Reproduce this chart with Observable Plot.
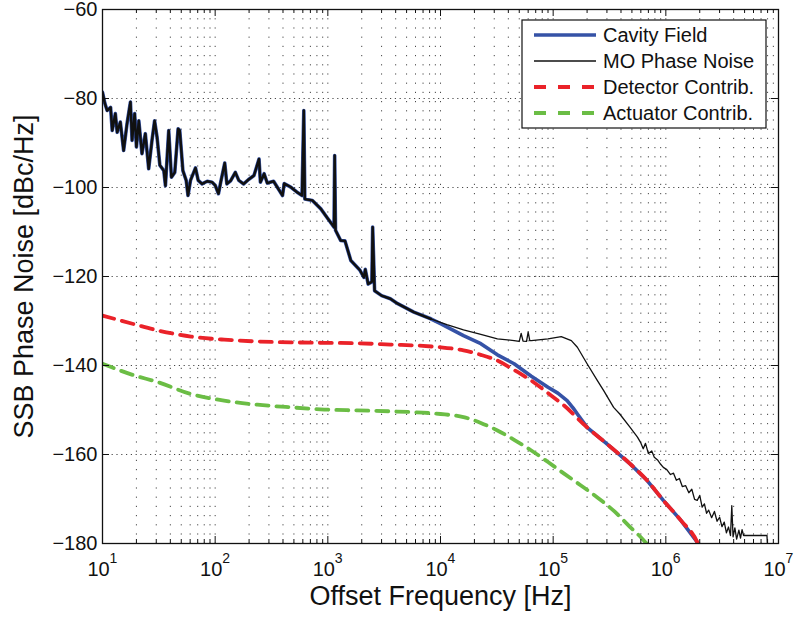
<!DOCTYPE html>
<html>
<head>
<meta charset="utf-8">
<script src="https://cdn.jsdelivr.net/npm/d3@7"></script>
<script src="https://cdn.jsdelivr.net/npm/@observablehq/plot@0.6"></script>
<style>
  html, body { margin: 0; padding: 0; background: #fff; }
  #chart { width: 795px; height: 617px; }
</style>
</head>
<body>
<div id="chart"></div>
<script>
// ---- Data ----
const moFreq = [10, 10.5, 11, 11.8, 12.2, 13.0, 13.5, 14.4, 15.4, 16.5, 17.7, 18.3, 19.3, 20, 21, 22.4, 24, 25.7, 27.5, 29, 30.5, 32.3, 35, 36.2, 38.7, 40.9, 43.8, 46.9, 48.5, 51.7, 55.3, 57.4, 60.4, 66.9, 70.7, 76.5, 85, 93.8, 100, 107, 112, 121.6, 127, 137, 151, 162, 179, 198, 221, 245, 252, 272, 290, 330, 396, 410, 468, 530, 590, 612, 625, 729, 867, 980, 1135, 1150, 1170, 1300, 1420, 1600, 1930, 2090, 2150, 2280, 2460, 2500, 2600, 3000, 3590, 4170, 5800, 8200,
  10000, 11400, 16000, 22800, 32000, 45000, 50000, 52000, 54000, 58000, 60000, 62000, 64000, 90000, 118000, 145000, 164000, 200000, 247000, 280000, 344000, 390000, 482000, 560000, 600000, 630000, 660000, 700000, 750000, 790000, 850000, 900000, 950000, 1.02e6, 1.1e6, 1.17e6, 1.24e6, 1.32e6, 1.4e6, 1.5e6, 1.6e6, 1.7e6, 1.8e6, 1.9e6, 2.0e6, 2.1e6, 2.2e6, 2.3e6, 2.4e6, 2.55e6, 2.7e6, 2.85e6, 3.0e6, 3.15e6, 3.3e6, 3.45e6, 3.6e6, 3.75e6, 3.85e6, 3.95e6, 4.1e6, 4.25e6, 4.45e6, 4.6e6, 4.75e6, 4.9e6, 5.2e6, 7.9e6, 8.0e6];
const moDB = [-78.6, -81.1, -82.7, -82, -87.2, -83.4, -87.6, -85.3, -91.7, -85.7, -80.8, -89.4, -83.4, -90.9, -85, -92.4, -87.9, -95.8, -89.4, -85, -88.7, -95, -96.2, -99.6, -87.2, -97.7, -96.6, -86.8, -87.2, -96.2, -98.4, -101.8, -98.4, -95.6, -98.4, -99.2, -98.6, -98.8, -99.5, -101.4, -98.8, -94.5, -99.2, -98.5, -96.6, -98.4, -99.2, -98.2, -97.3, -93.6, -98.8, -96.9, -99, -98.6, -101.8, -99.1, -99.9, -101, -101.8, -82.7, -102.6, -102.9, -104.8, -106.7, -108.9, -92.8, -109.6, -111.9, -112, -116.4, -118.6, -120.2, -118.4, -121.7, -121.2, -108.9, -123.2, -124.3, -125, -126.1, -128, -129.5,
  -130.3, -130.8, -132, -133, -134, -134.4, -134.6, -132.8, -134.5, -134.6, -132.5, -134.4, -134.4, -134, -133.5, -134.4, -135.9, -139.6, -143.4, -145.6, -149.4, -150.9, -153.9, -156.1, -157.4, -158.7, -157.5, -159.8, -159.2, -160.6, -161.3, -162.2, -162.9, -163.4, -164.5, -164.2, -165.8, -165.4, -167.2, -167, -168.6, -167.8, -170.1, -170.3, -169.2, -171.8, -171.1, -173.2, -172.5, -174.2, -172.8, -175, -174.1, -176.2, -175.2, -177.6, -176.3, -178.2, -171.5, -178.5, -176.5, -179, -177, -178.8, -176.9, -178.2, -178.2, -178.2, -181];

// Cavity field follows the MO trace up to ~8 kHz, then this tail
const cavTailFreq = [10000, 16000, 22800, 32000, 45000, 64000, 90000, 110000, 133000, 150000, 164000, 200000, 300000, 482000, 680000, 950000, 1.36e6, 1.9e6, 2.0e6];
const cavTailDB = [-130.6, -133.3, -135.1, -137.6, -139.6, -142.4, -144.9, -146.2, -147.9, -149.5, -150.9, -153.9, -157.6, -162.1, -165.8, -170.3, -174.8, -179.7, -181];

const detFreq = [10, 19, 30.7, 61, 120, 237, 470, 930, 1830, 3600, 7000, 10000, 16000, 22800, 32000, 45000, 64000, 90000, 125000, 200000, 300000, 482000, 680000, 950000, 1.36e6, 1.9e6, 2.0e6];
const detDB = [-128.8, -130.7, -132.1, -133.5, -134.2, -134.6, -134.8, -134.9, -135, -135.3, -135.6, -135.9, -136.6, -137.6, -138.9, -141, -143.4, -146.2, -149, -153.9, -157.6, -162.1, -165.8, -170.3, -174.8, -179.7, -181];

const actFreq = [10, 19, 30.7, 61, 120, 237, 470, 930, 1830, 3600, 7000, 10000, 16000, 22800, 32000, 45000, 64000, 90000, 125000, 175000, 245000, 350000, 482000, 600000, 700000];
const actDB = [-139.6, -142.2, -143.7, -146.4, -147.9, -148.8, -149.4, -149.9, -150.1, -150.3, -150.6, -150.9, -151.6, -152.9, -154.6, -156.7, -159.1, -161.7, -164.3, -166.9, -169.6, -172.8, -176.3, -178.6, -180.5];

const seriesNames = ["Cavity Field", "MO Phase Noise", "Detector Contrib.", "Actuator Contrib."];
const xMajor = [10, 100, 1e3, 1e4, 1e5, 1e6, 1e7];
const xExponents = ["1", "2", "3", "4", "5", "6", "7"];
const yTicks = [-180, -160, -140, -120, -100, -80, -60];
const yTickLabels = ["\u2212180", "\u2212160", "\u2212140", "\u2212120", "\u2212100", "\u221280", "\u221260"];
const xTitle = "Offset Frequency [Hz]";
const yTitle = "SSB Phase Noise [dBc/Hz]";

// ---- Build tables ----
const zip = (fs, ds) => fs.map((f, i) => ({f, db: ds[i]}));
const mo = zip(moFreq, moDB);
const cavity = mo.filter(d => d.f <= 8200).concat(zip(cavTailFreq, cavTailDB));
const moShared = mo.filter(d => d.f <= 8200);
const det = zip(detFreq, detDB);
const act = zip(actFreq, actDB);
const xMinor = [];
for (let i = 0; i < xMajor.length - 1; i++) for (let k = 2; k <= 9; k++) xMinor.push(xMajor[i] * k);
const xGrid = xMajor.slice(1, -1).concat(xMinor);
const yGrid = yTicks.slice(1, -1);

const colors = {blue: "#3552a6", black: "#111", red: "#ea2229", green: "#6bbd45"};
const W = 795, H = 617, mL = 102, mR = 17, mT = 9, mB = 74;
const fw = W - mL - mR, fh = H - mT - mB;
const FONT = "'Liberation Sans', Arial, Helvetica, sans-serif";

const plot = Plot.plot({
  width: W, height: H,
  marginLeft: mL, marginRight: mR, marginTop: mT, marginBottom: mB,
  style: {fontFamily: FONT, background: "#fff", color: "#111", overflow: "visible"},
  x: {type: "log", domain: [10, 1e7], axis: null},
  y: {domain: [-180, -60], axis: null},
  marks: [
    Plot.ruleX(xGrid, {x: d => d, stroke: "#333", strokeWidth: 0.9, strokeDasharray: "1.2,8"}),
    Plot.ruleY(yGrid, {y: d => d, stroke: "#333", strokeWidth: 0.9, strokeDasharray: "1.2,3.6"}),
    Plot.line(cavity, {x: "f", y: "db", stroke: colors.blue, strokeWidth: 3.6, clip: true}),
    Plot.line(moShared, {x: "f", y: "db", stroke: colors.black, strokeWidth: 2.4, clip: true}),
    Plot.line(mo, {x: "f", y: "db", stroke: colors.black, strokeWidth: 1.3, clip: true}),
    Plot.line(det, {x: "f", y: "db", stroke: colors.red, strokeWidth: 3.8, strokeDasharray: "12,8", curve: "monotone-x", clip: true}),
    Plot.line(act, {x: "f", y: "db", stroke: colors.green, strokeWidth: 3.8, strokeDasharray: "12,8", curve: "monotone-x", clip: true}),
    Plot.frame({stroke: "#111", strokeWidth: 1.3}),
    // inward ticks
    Plot.tickX(xMajor, {x: d => d, insetTop: fh - 7, stroke: "#111"}),
    Plot.tickX(xMajor, {x: d => d, insetBottom: fh - 7, stroke: "#111"}),
    Plot.tickX(xMinor, {x: d => d, insetTop: fh - 4, stroke: "#111"}),
    Plot.tickX(xMinor, {x: d => d, insetBottom: fh - 4, stroke: "#111"}),
    Plot.tickY(yTicks, {y: d => d, insetRight: fw - 7, stroke: "#111"}),
    Plot.tickY(yTicks, {y: d => d, insetLeft: fw - 7, stroke: "#111"}),
    // tick labels
    Plot.text(yTicks, {y: d => d, text: (d, i) => yTickLabels[i], frameAnchor: "left", textAnchor: "end", lineAnchor: "middle", dx: -5, fontSize: 20, fill: "#111"}),
    Plot.text(xMajor, {x: d => d, y: -180, text: () => "10", textAnchor: "middle", lineAnchor: "top", dx: -4, dy: 18, fontSize: 20, fill: "#111"}),
    Plot.text(xMajor, {x: d => d, y: -180, text: (d, i) => xExponents[i], textAnchor: "start", lineAnchor: "top", dx: 7, dy: 10, fontSize: 14, fill: "#111"}),
    // axis titles
    Plot.text([xTitle], {text: d => d, frameAnchor: "bottom", textAnchor: "middle", lineAnchor: "middle", dy: 53, fontSize: 27, fill: "#111"}),
    Plot.text([yTitle], {text: d => d, frameAnchor: "left", textAnchor: "middle", lineAnchor: "middle", dx: -78, rotate: -90, fontSize: 27, fill: "#111"})
  ]
});
document.getElementById("chart").appendChild(plot);

// ---- Legend ----
const svg = d3.select(plot);
const lg = svg.append("g").attr("font-family", FONT).attr("text-anchor", "start");
const lx = 522, ly = 20, lw = 244, lh = 108;
lg.append("rect").attr("x", lx).attr("y", ly).attr("width", lw).attr("height", lh)
  .attr("fill", "#fff").attr("stroke", "#111").attr("stroke-width", 1.2);
const legendStyles = [
  {stroke: colors.blue, width: 3.6, dash: null},
  {stroke: colors.black, width: 1.4, dash: null},
  {stroke: colors.red, width: 3.8, dash: "12,12"},
  {stroke: colors.green, width: 3.8, dash: "12,12"}
];
seriesNames.forEach((name, i) => {
  const cy = ly + 15 + i * 26;
  const s = legendStyles[i];
  const ln = lg.append("line").attr("x1", 534).attr("x2", 596).attr("y1", cy).attr("y2", cy)
    .attr("stroke", s.stroke).attr("stroke-width", s.width);
  if (s.dash) ln.attr("stroke-dasharray", s.dash);
  lg.append("text").attr("x", 603).attr("y", cy + 7).attr("font-size", 20)
    .attr("text-anchor", "start").attr("fill", "#111").text(name);
});
</script>
</body>
</html>
